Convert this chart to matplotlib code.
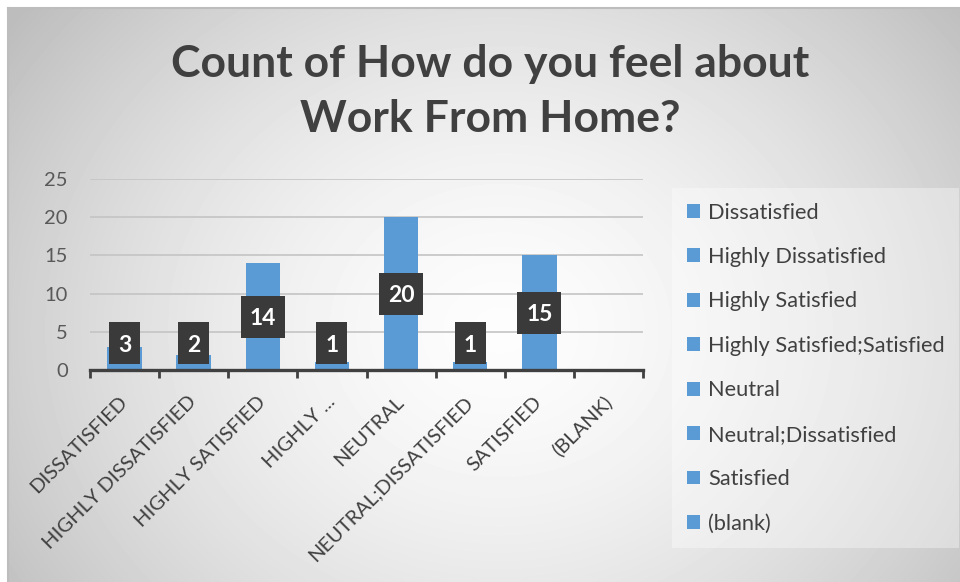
import numpy as np
import matplotlib
matplotlib.use("Agg")
import matplotlib.pyplot as plt
from matplotlib.patches import Patch, Rectangle
from matplotlib.transforms import ScaledTranslation

categories = ["Dissatisfied", "Highly Dissatisfied", "Highly Satisfied",
              "Highly Satisfied;Satisfied", "Neutral", "Neutral;Dissatisfied",
              "Satisfied", "(blank)"]
tick_labels = ["DISSATISFIED", "HIGHLY DISSATISFIED", "HIGHLY SATISFIED",
               "HIGHLY ...", "NEUTRAL", "NEUTRAL;DISSATISFIED", "SATISFIED", "(BLANK)"]
counts = [3, 2, 14, 1, 20, 1, 15, None]
title = "Count of How do you feel about\nWork From Home?"

BAR = "#5B9BD5"
TXT = "#404040"
W, H = 960, 582

plt.rcParams["font.family"] = ["Lato", "DejaVu Sans"]
fig = plt.figure(figsize=(W / 100, H / 100), dpi=100)

# background with radial gradient inside a frame
bg = fig.add_axes([0, 0, 1, 1], zorder=-10)
bg.set_xlim(0, W); bg.set_ylim(H, 0); bg.axis("off")
yy, xx = np.mgrid[0:H, 0:W]
r = np.sqrt(((xx - 500) / 560.0) ** 2 + ((yy - 330) / 480.0) ** 2)
img = np.clip(0.99 - 0.22 * r ** 1.6, 0.74, 1.0)
img[:8, :] = 1.0
img[:, :8] = 1.0
bg.imshow(img, cmap="gray", vmin=0, vmax=1, extent=(0, W, H, 0), aspect="auto",
          interpolation="bilinear")
bg.plot([8, W], [8, 8], color="#bdbdbd", lw=1.5)
bg.plot([8, 8], [8, H], color="#bdbdbd", lw=1.5)

ax = fig.add_axes([90 / W, 1 - 370 / H, 553 / W, 191 / H])
ax.patch.set_alpha(0)
x = np.arange(len(categories))
vals = [v if v is not None else 0 for v in counts]
ax.bar(x, vals, width=0.5, color=BAR, zorder=3)
ax.set_xlim(-0.5, len(categories) - 0.5)
ax.set_ylim(0, 25)
ax.set_yticks([0, 5, 10, 15, 20, 25])
ax.yaxis.grid(True, color="#c4c4c4", lw=1.2, zorder=0)
ax.set_axisbelow(True)
for s in ["left", "right", "top"]:
    ax.spines[s].set_visible(False)
ax.spines["bottom"].set_color(TXT)
ax.spines["bottom"].set_linewidth(2.4)
ax.spines["bottom"].set_zorder(4)
ax.tick_params(axis="y", length=0, pad=16, labelsize=14.5, labelcolor="#595959")
ax.set_xticks(np.arange(len(categories) + 1) - 0.5, minor=False)
ax.set_xticklabels([])
ax.tick_params(axis="x", which="major", length=6, width=2, color=TXT, direction="out")
for i, lab in enumerate(tick_labels):
    ax.annotate(lab, xy=(i, 0), xycoords="data", xytext=(0, -21), textcoords="offset points",
                rotation=45, ha="right", va="center", rotation_mode="anchor",
                fontsize=14.5, color=TXT)

# data labels
for i, v in enumerate(counts):
    if v is None:
        continue
    yc = max(v / 2.0, 3.5)
    bw = 31 if v < 10 else 44
    bh = 42
    tr = fig.dpi_scale_trans + ScaledTranslation(i, yc, ax.transData)
    ax.add_patch(Rectangle((-bw / 200, -bh / 200), bw / 100, bh / 100, transform=tr,
                           facecolor="#3a3a3a", edgecolor="none", zorder=5, clip_on=False))
    ax.text(i, yc, str(v), ha="center", va="center_baseline", fontsize=16.5, fontweight="bold",
            color="white", zorder=6)

fig.text(490 / W, 1 - 91.5 / H, title, ha="center", va="center", fontsize=32,
         fontweight="bold", color=TXT, linespacing=1.48)

handles = [Patch(facecolor=BAR, edgecolor="none") for _ in categories]
leg = fig.legend(handles, categories, loc="upper left", bbox_to_anchor=(679 / W, 1 - 195 / H),
                 frameon=True, fontsize=15.7, handlelength=0.6, handleheight=0.6,
                 handletextpad=0.4, labelspacing=1.12, borderpad=0.35, borderaxespad=0,
                 labelcolor=TXT)
fr = leg.get_frame()
fr.set_facecolor("white"); fr.set_alpha(0.35); fr.set_edgecolor("none")
fr.set_boxstyle("square")

fig.savefig("out.png", dpi=100)
